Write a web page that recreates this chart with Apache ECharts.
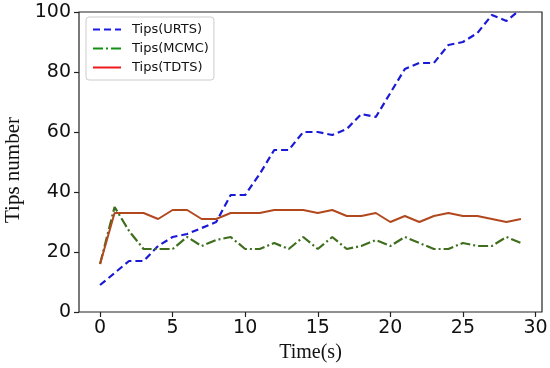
<!DOCTYPE html>
<html><head><meta charset="utf-8">
<script src="https://cdn.jsdelivr.net/npm/echarts@6/dist/echarts.min.js"></script>
<style>html,body{margin:0;padding:0;background:#fff}#c{width:550px;height:368px}</style>
</head><body><div id="c"></div>
<script>
const time = [0,1,2,3,4,5,6,7,8,9,10,11,12,13,14,15,16,17,18,19,20,21,22,23,24,25,26,27,28,29];
const urts = [9,13,17,17,22,25,26,28,30,39,39,46,54,54,60,60,59,61,66,65,73,81,83,83,89,90,93,99,97,101];
const mcmc = [16,35,27,21,21,21,25,22,24,25,21,21,23,21,25,21,25,21,22,24,22,25,23,21,21,23,22,22,25,23];
const tdts = [16,33,33,33,31,34,34,31,31,33,33,33,34,34,34,33,34,32,32,33,30,32,30,32,33,32,32,31,30,31];
const xTicks = [0,5,10,15,20,25,30];
const yTicks = [0,20,40,60,80,100];
const names = ['Tips(URTS)','Tips(MCMC)','Tips(TDTS)'];

const pair = a => a.map((v,i)=>[time[i],v]);
const hide = {color:'rgba(0,0,0,0)',borderColor:'rgba(0,0,0,0)',borderWidth:0};
const chart = echarts.init(document.getElementById('c'));
chart.setOption({
  animation:false,
  grid:{left:79,right:8,top:12,bottom:56,outerBoundsMode:'none',containLabel:false,
    show:true,borderColor:'#222',borderWidth:1.2,backgroundColor:'transparent'},
  xAxis:{type:'value',min:-1.45,max:30.45,
    name:'Time(s)',nameLocation:'middle',nameGap:31,
    nameTextStyle:{fontFamily:'Liberation Serif',fontSize:20,color:'#111'},
    axisLine:{show:false,onZero:false},splitLine:{show:false},
    axisTick:{show:true,length:5,lineStyle:{color:'#222',width:1.2},customValues:xTicks},
    axisLabel:{fontFamily:'DejaVu Sans',fontSize:19,color:'#111',margin:7,customValues:xTicks}},
  yAxis:{type:'value',min:0,max:100,
    name:'Tips number',nameLocation:'middle',nameGap:55,
    nameTextStyle:{fontFamily:'Liberation Serif',fontSize:21,color:'#111',padding:[0,16,0,0]},
    axisLine:{show:false,onZero:false},splitLine:{show:false},
    axisTick:{show:true,length:5,lineStyle:{color:'#222',width:1.2},customValues:yTicks},
    axisLabel:{fontFamily:'DejaVu Sans',fontSize:19,color:'#111',margin:8,customValues:yTicks}},
  legend:{orient:'vertical',left:86,top:17,padding:[6,5,6,6],itemGap:6,itemWidth:28,itemHeight:14,
    backgroundColor:'#fff',borderColor:'#ccc',borderWidth:1,borderRadius:3,
    textStyle:{fontFamily:'DejaVu Sans',fontSize:13,color:'#111',padding:[0,0,0,6]},
    itemStyle:hide,
    data:[
      {name:names[0],itemStyle:hide,lineStyle:{color:'#1a1ae6',type:[7,4],width:2}},
      {name:names[1],itemStyle:hide,lineStyle:{color:'#149014',type:[10,3,2,3],width:2}},
      {name:names[2],itemStyle:hide,lineStyle:{color:'#ee1a1a',type:'solid',width:2}}
    ]},
  series:[
    {name:names[0],type:'line',data:pair(urts),symbol:'none',
      lineStyle:{color:'#1a1ad6',type:[7,4],width:2.2},itemStyle:{color:'#1a1ad6'}},
    {name:names[1],type:'line',data:pair(mcmc),symbol:'none',
      lineStyle:{color:'#3f6f1e',type:[10,3,2,3],width:2.2},itemStyle:{color:'#3f6f1e'}},
    {name:names[2],type:'line',data:pair(tdts),symbol:'none',
      lineStyle:{color:'#b2481e',type:'solid',width:2},itemStyle:{color:'#b2481e'}}
  ]
});
</script></body></html>
